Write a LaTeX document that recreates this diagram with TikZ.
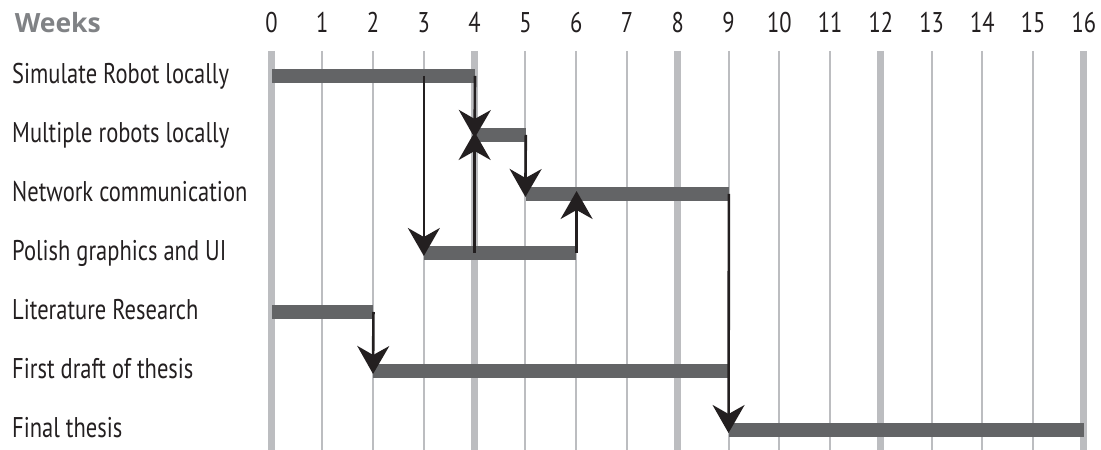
\documentclass[tikz,border=0pt]{standalone}
\usepackage{fontspec}
\setmainfont{PT Sans}[FakeStretch=0.79]
\newfontfamily\headfont{Open Sans}
\usetikzlibrary{arrows.meta, positioning}
\definecolor{gridgray}{HTML}{BCBDC0}
\definecolor{bargray}{HTML}{636466}
\definecolor{headgray}{HTML}{808285}
\definecolor{txtblack}{HTML}{231F20}

\newcommand{\ganttbar}[4]{%
  \node[taskbar, minimum width={(#4-#3)*50.78pt}] (#1) at (#3,#2) {};}

\begin{document}
\begin{tikzpicture}[
    x=50.78pt, y=-59pt,
    >={Stealth[length=28pt, width=32pt, inset=9pt]},
    font=\fontsize{28.5}{32}\selectfont,
    text=txtblack,
    gridline/.style={draw=gridgray, line width=2pt},
    gridmajor/.style={draw=gridgray, line width=7pt},
    weeknum/.style={anchor=base, inner sep=0pt},
    tasklabel/.style={anchor=base west, inner sep=0pt},
    taskbar/.style={
        rectangle, fill=bargray, draw=none, inner sep=0pt,
        minimum height=14pt, anchor=west,
    },
    dep/.style={->, line width=2.6pt, color=txtblack, shorten >=-3pt},
]
\useasboundingbox (-5.3466,-0.288) rectangle (16.335,7.339);

% Grid and week numbers
\foreach \w in {0,...,16}{
    \pgfmathtruncatemacro{\major}{mod(\w,4)==0}
    \ifnum\major=1
        \draw[gridmajor] (\w,0.576) -- (\w,7.339);
    \else
        \draw[gridline] (\w,0.576) -- (\w,7.339);
    \fi
    \node[weeknum] (wk\w) at (\w,0.26) {\w};
}
\node[tasklabel, font=\headfont\fontsize{26.5}{30}\selectfont\bfseries, text=headgray] (weeks) at (-5.06,0.26) {Weeks};

% Task labels
\node[tasklabel] (l1) at (-5.11,1.124) {Simulate Robot locally};
\node[tasklabel] (l2) at (-5.11,2.124) {Multiple robots locally};
\node[tasklabel] (l3) at (-5.11,3.124) {Network communication};
\node[tasklabel] (l4) at (-5.11,4.124) {Polish graphics and UI};
\node[tasklabel] (l5) at (-5.11,5.124) {Literature Research};
\node[tasklabel] (l6) at (-5.11,6.124) {First draft of thesis};
\node[tasklabel] (l7) at (-5.11,7.124) {Final thesis};

% Bars
\ganttbar{sim}{1}{0}{4}
\ganttbar{multi}{2}{4}{5}
\ganttbar{network}{3}{5}{9}
\ganttbar{polish}{4}{3}{6}
\ganttbar{lit}{5}{0}{2}
\ganttbar{draft}{6}{2}{9}
\ganttbar{final}{7}{9}{16}

% Dependencies
\draw[dep] (polish.west |- sim.center) -- (polish.west);
\draw[dep] (sim.east) -- (multi.west);
\draw[dep] (multi.west |- polish.center) -- (multi.west);
\draw[dep] (multi.east) -- (network.west);
\draw[dep] (polish.east) -- (polish.east |- network.center);
\draw[dep] (lit.east) -- (draft.west);
\draw[dep] (network.east) -- (final.west);

\end{tikzpicture}
\end{document}
